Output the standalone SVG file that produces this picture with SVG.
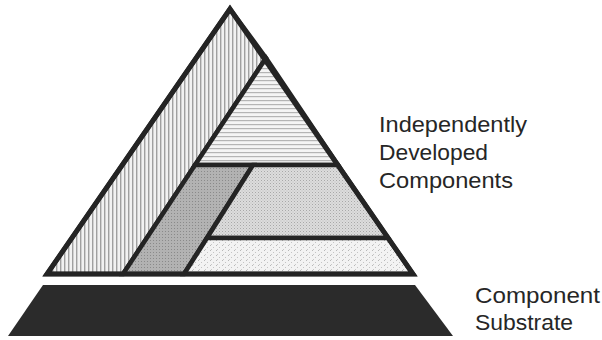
<svg xmlns="http://www.w3.org/2000/svg" width="602" height="340" viewBox="0 0 602 340">
  <defs>
    <pattern id="vhatch" width="4" height="4" patternUnits="userSpaceOnUse">
      <rect width="4" height="4" fill="#f2f2f2"/>
      <rect x="0" y="0" width="1.4" height="4" fill="#a0a0a0"/>
    </pattern>
    <pattern id="hhatch" width="4" height="4" patternUnits="userSpaceOnUse">
      <rect width="4" height="4" fill="#f4f4f4"/>
      <rect x="0" y="0" width="4" height="1.2" fill="#b4b4b4"/>
    </pattern>
    <pattern id="dark" width="3" height="3" patternUnits="userSpaceOnUse">
      <rect width="3" height="3" fill="#b2b2b2"/>
      <rect x="0" y="0" width="1" height="1" fill="#8a8a8a"/>
    </pattern>
    <pattern id="mid" width="3" height="3" patternUnits="userSpaceOnUse">
      <rect width="3" height="3" fill="#dcdcdc"/>
      <rect x="0" y="0" width="1" height="1" fill="#a8a8a8"/>
      <rect x="1.5" y="1.5" width="1" height="1" fill="#bcbcbc"/>
    </pattern>
    <pattern id="light" width="6" height="5" patternUnits="userSpaceOnUse">
      <rect width="6" height="5" fill="#f3f3f3"/>
      <rect x="0" y="0" width="1" height="1" fill="#b8b8b8"/>
      <rect x="3" y="2" width="1" height="1" fill="#c4c4c4"/>
      <rect x="1" y="4" width="1" height="1" fill="#c8c8c8"/>
    </pattern>
  </defs>
  <style>
    .part { stroke: #242424; stroke-width: 4.5; stroke-linejoin: miter; }
    .label { font-family: "Liberation Sans", Arial, sans-serif; font-size: 22px; fill: #262626; }
  </style>

  <g id="left-strip">
    <polygon class="part" fill="url(#vhatch)" points="230,9 266,58 123,274 47,274"/>
  </g>
  <g id="top-component">
    <polygon class="part" fill="url(#hhatch)" points="266,58 338,165 195,165"/>
  </g>
  <g id="dark-component">
    <polygon class="part" fill="url(#dark)" points="195,165 253,165 184,274 123,274"/>
  </g>
  <g id="middle-component">
    <polygon class="part" fill="url(#mid)" points="253,165 338,165 388,238 207,238"/>
  </g>
  <g id="bottom-component">
    <polygon class="part" fill="url(#light)" points="207,238 388,238 413,274 184,274"/>
  </g>
  <g id="pyramid-outline">
    <polygon fill="none" stroke="#242424" stroke-width="5" stroke-linejoin="miter" points="230,9 413,274 47,274"/>
  </g>
  <g id="substrate">
    <polygon fill="#2b2b2b" points="43,285 415,285 453,336 8,336"/>
  </g>

  <g id="label-components">
    <text class="label" x="379" y="132" textLength="148" lengthAdjust="spacingAndGlyphs">Independently</text>
    <text class="label" x="379" y="160" textLength="109" lengthAdjust="spacingAndGlyphs">Developed</text>
    <text class="label" x="379" y="188" textLength="134" lengthAdjust="spacingAndGlyphs">Components</text>
  </g>
  <g id="label-substrate">
    <text class="label" x="475" y="303" textLength="125" lengthAdjust="spacingAndGlyphs">Component</text>
    <text class="label" x="475" y="330" textLength="98" lengthAdjust="spacingAndGlyphs">Substrate</text>
  </g>
</svg>
